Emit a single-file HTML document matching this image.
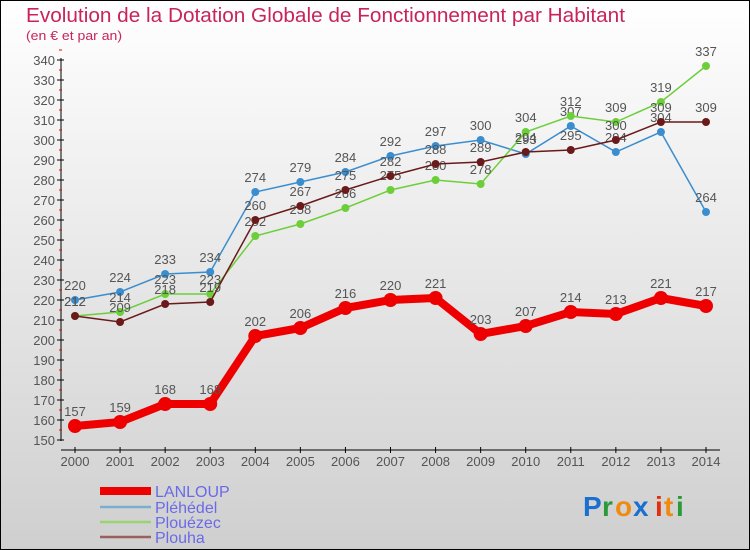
<!DOCTYPE html>
<html><head><meta charset="utf-8"><style>
body{margin:0;}
#wrap{width:750px;height:550px;position:relative;overflow:hidden;}
svg text{font-family:"Liberation Sans",sans-serif;}
</style></head><body>
<div id="wrap">
<svg id="chart" width="750" height="550" xmlns="http://www.w3.org/2000/svg">
<defs><linearGradient id="bg" x1="0" y1="0" x2="0" y2="1"><stop offset="0" stop-color="#ffffff"/><stop offset="1" stop-color="#cfcfcf"/></linearGradient></defs>
<rect x="0.5" y="0.5" width="749" height="549" fill="url(#bg)" stroke="#000"/>
<text x="26" y="22" font-size="20" fill="#c8245a" textLength="599" lengthAdjust="spacingAndGlyphs">Evolution de la Dotation Globale de Fonctionnement par Habitant</text>
<text x="26" y="40" font-size="13" fill="#c8245a" textLength="96" lengthAdjust="spacingAndGlyphs">(en € et par an)</text>
<g id="axes"></g><g id="series"></g><g id="legend"></g>
<g font-size="28" font-weight="bold">
<text x="583" y="516" fill="#1a6fd0">P</text><text x="602" y="516" fill="#2a9a3a">r</text><text x="615" y="516" fill="#f08a10">o</text><text x="633" y="516" fill="#1a6fd0">x</text><text x="655" y="516" fill="#e03010">i</text><text x="664" y="516" fill="#f08a10">t</text><text x="676" y="516" fill="#2a9a3a">i</text>
</g>
</svg></div>
<script>
const years=[2000,2001,2002,2003,2004,2005,2006,2007,2008,2009,2010,2011,2012,2013,2014];
const lanloup=[157,159,168,168,202,206,216,220,221,203,207,214,213,221,217];
const plehedel=[220,224,233,234,274,279,284,292,297,300,293,307,294,304,264];
const plouezec=[212,214,223,223,252,258,266,275,280,278,304,312,309,319,337];
const plouha=[212,209,218,219,260,267,275,282,288,289,294,295,300,309,309];
const yTicks=[150,160,170,180,190,200,210,220,230,240,250,260,270,280,290,300,310,320,330,340];
const seriesNames=["LANLOUP","Pléhédel","Plouézec","Plouha"];
const NS="http://www.w3.org/2000/svg";
function X(i){return 75+i*(706-75)/(years.length-1);}
function Y(v){return 440-(v-150)*2;}
function el(t,a,p){const e=document.createElementNS(NS,t);for(const k in a)e.setAttribute(k,a[k]);p.appendChild(e);return e;}
const axes=document.getElementById('axes');
let yl=el('line',{x1:61,y1:58,x2:61,y2:441,stroke:'#000'},axes);


yTicks.forEach(v=>{
 el('line',{x1:57,y1:Y(v),x2:64,y2:Y(v),stroke:'#000'},axes);
 el('line',{x1:59,y1:Y(v)-10,x2:62,y2:Y(v)-10,stroke:'#e00'},axes);
 const t=el('text',{x:55,y:Y(v)+5,'font-size':13,fill:'#555','text-anchor':'end'},axes);t.textContent=v;
 
 
});
let xl=el('line',{x1:61,y1:450,x2:720,y2:450,stroke:'#000'},axes);


years.forEach((yr,i)=>{
 el('line',{x1:X(i),y1:447,x2:X(i),y2:453,stroke:'#000'},axes);
 const t=el('text',{x:X(i),y:466,'font-size':13,fill:'#555','text-anchor':'middle'},axes);t.textContent=yr;
 
 
});
const sg=document.getElementById('series');
function draw(data,color,w,r,name){
 const g=el('g',{},sg);
 
 
 el('polyline',{points:data.map((v,i)=>X(i)+','+Y(v)).join(' '),fill:'none',stroke:color,'stroke-width':w},g);
 data.forEach((v,i)=>{
  const c=el('circle',{cx:X(i),cy:Y(v),r:r,fill:color},g);
  
  
  const t=el('text',{x:X(i),y:Y(v)-10,'font-size':13,fill:'#555','text-anchor':'middle'},g);t.textContent=v;
  
  
 });
}
draw(plehedel,'#3a8ed0',1.5,4,'series-plehedel');
draw(plouezec,'#6ccf3a',1.5,4,'series-plouezec');
draw(plouha,'#6a1a1a',1.5,4,'series-plouha');
draw(lanloup,'#ee0000',8,7,'series-lanloup');
const lg=document.getElementById('legend');
const lc=['#ee0000','#7aaed0','#9ad470','#9a6060'];const lw=[8,2.5,2.5,2.5];const ly=[491,507,522,537];
seriesNames.forEach((n,i)=>{
 const g=el('g',{},lg);
 
 
 el('line',{x1:100,y1:ly[i],x2:151,y2:ly[i],stroke:lc[i],'stroke-width':lw[i]},g);
 const t=el('text',{x:155,y:ly[i]+6,'font-size':16,fill:'#6a6ae8'},g);t.textContent=n;
});
</script>
</body></html>
